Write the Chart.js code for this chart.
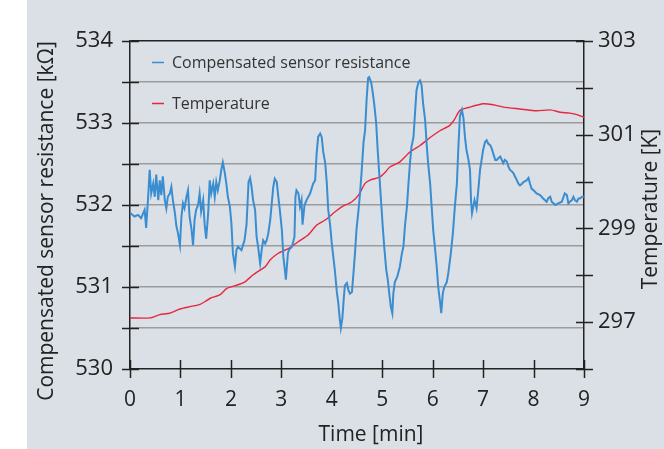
<!DOCTYPE html>
<html>
<head>
<meta charset="utf-8">
<script src="https://cdn.jsdelivr.net/npm/chart.js@4.4.1/dist/chart.umd.min.js"></script>
<style>
  html, body { margin: 0; padding: 0; background: #fff; }
  canvas { display: block; }
</style>
</head>
<body>
<canvas id="sensorChart" width="664" height="449"></canvas>
<script>
// Compensated sensor resistance [kOhm] vs time [min]
const resTime = [
  0.01,0.09,0.16,0.22,0.29,0.32,0.36,0.39,0.42,0.46,0.49,0.52,0.56,0.59,0.62,0.65,0.69,0.72,0.75,0.79,
  0.82,0.85,0.89,0.92,0.95,0.99,1.02,1.05,1.08,1.12,1.15,1.18,1.22,1.25,1.28,1.31,1.35,1.38,1.41,1.45,
  1.48,1.51,1.55,1.58,1.61,1.65,1.68,1.71,1.74,1.78,1.81,1.84,1.88,1.91,1.94,1.98,2.01,2.04,2.08,2.11,
  2.14,2.21,2.27,
  2.31,2.35,2.38,2.41,2.44,2.48,2.51,2.54,2.58,2.61,2.64,2.68,2.71,2.74,2.78,2.81,2.84,2.87,2.91,2.94,
  2.97,3.01,3.04,3.07,3.09,3.13,3.15,3.21,3.26,3.28,3.30,3.34,3.37,3.40,3.42,3.46,3.50,3.57,3.63,3.67,
  3.70,3.73,3.77,3.80,3.83,3.87,3.90,3.93,3.97,4.00,4.03,4.06,4.10,4.13,4.16,4.18,4.21,4.24,4.26,4.30,
  4.33,4.36,4.40,4.43,4.46,4.49,4.53,4.56,4.59,
  4.63,4.66,4.69,4.72,4.74,4.78,4.81,4.84,4.88,4.91,4.94,4.98,5.01,5.04,5.08,5.11,5.14,5.17,5.20,5.22,
  5.25,5.30,5.35,5.39,5.42,5.45,5.49,5.52,5.55,5.58,5.62,5.65,5.68,5.72,5.75,5.78,5.81,5.85,5.88,5.91,
  5.95,5.98,6.01,6.05,6.08,6.11,6.15,6.17,6.20,6.23,6.28,6.31,6.36,6.40,6.44,6.48,6.51,6.54,6.58,6.61,
  6.64,6.67,6.71,6.74,6.76,6.78,
  6.83,6.87,6.91,6.94,6.97,7.00,7.04,7.07,7.10,7.14,7.17,7.20,7.24,7.27,7.30,7.34,7.37,7.40,7.43,7.47,
  7.50,7.53,7.57,7.60,7.63,7.67,7.70,7.73,7.77,7.80,7.86,7.90,7.93,7.96,8.00,8.06,8.13,8.19,8.26,8.29,
  8.33,8.36,8.43,8.49,8.56,8.62,8.66,8.69,8.72,8.76,8.79,8.82,8.86,8.89,8.92,8.96,9.00
];
const resValues = [
  531.90,531.86,531.88,531.84,531.94,531.72,532.10,532.43,532.14,532.26,532.10,532.37,532.06,532.30,532.12,532.35,532.06,531.96,532.10,532.14,
  532.22,532.06,531.90,531.74,531.66,531.51,531.86,532.02,531.96,532.10,532.18,531.86,531.70,531.51,531.82,531.94,532.00,532.14,531.92,532.06,
  531.76,531.59,531.90,532.30,532.14,532.26,532.10,532.28,532.18,532.30,532.43,532.52,532.39,532.26,532.10,531.98,531.78,531.41,531.25,531.45,
  531.49,531.45,531.57,
  531.76,532.28,532.33,532.22,532.06,531.94,531.61,531.49,531.29,531.45,531.57,531.53,531.57,531.65,531.82,532.02,532.22,532.32,532.28,532.10,
  531.94,531.70,531.37,531.21,531.09,531.41,531.45,531.49,531.61,532.10,532.18,532.14,531.98,532.06,531.76,532.00,532.06,532.14,532.26,532.30,
  532.63,532.83,532.87,532.83,532.65,532.51,532.28,531.94,531.74,531.53,531.37,531.21,530.94,530.80,530.60,530.50,530.62,530.88,531.02,531.05,
  530.96,530.92,530.94,531.17,531.41,531.70,531.94,532.14,532.39,
  532.77,532.91,533.28,533.55,533.56,533.50,533.38,533.24,533.00,532.67,532.39,532.02,531.74,531.49,531.21,531.09,530.92,530.76,530.68,530.92,
  531.06,531.13,531.25,531.41,531.49,531.74,531.98,532.26,532.51,532.71,532.83,533.12,533.40,533.50,533.52,533.46,533.24,533.04,532.75,532.51,
  532.26,531.98,531.70,531.45,531.25,531.00,530.80,530.68,530.92,531.00,531.06,531.17,531.41,531.65,531.98,532.26,532.71,533.08,533.16,533.06,
  532.83,532.67,532.55,532.43,532.06,531.90,
  532.06,531.96,532.22,532.43,532.55,532.67,532.77,532.79,532.75,532.73,532.69,532.63,532.55,532.55,532.57,532.59,532.55,532.51,532.55,532.53,
  532.47,532.43,532.41,532.39,532.35,532.30,532.26,532.24,532.26,532.28,532.30,532.33,532.26,532.20,532.18,532.14,532.12,532.08,532.04,532.08,
  532.10,532.04,532.00,532.02,532.04,532.14,532.12,532.02,532.04,532.06,532.10,532.06,532.04,532.08,532.08,532.10,532.10
];

// Temperature [K] vs time [min]
const tempTime = [
  0,0.40,0.59,0.79,0.99,1.19,1.39,1.49,1.59,1.78,1.92,2.12,2.28,2.44,2.58,2.68,2.78,2.94,3.14,3.34,
  3.53,3.70,3.87,4.06,4.20,4.40,4.53,4.66,4.76,4.96,5.06,5.15,5.35,5.55,5.75,5.95,6.15,6.34,6.44,6.54,
  6.74,7.00,7.20,7.40,7.73,8.06,8.33,8.53,8.72,8.86,9.00
];
const tempValues = [
  297.09,297.09,297.16,297.19,297.28,297.33,297.38,297.44,297.51,297.58,297.72,297.79,297.86,298.01,298.11,298.18,298.33,298.47,298.57,298.72,
  298.86,299.07,299.18,299.35,299.46,299.57,299.71,299.96,300.03,300.10,300.20,300.31,300.42,300.63,300.77,300.94,301.09,301.20,301.34,301.52,
  301.59,301.66,301.64,301.59,301.55,301.51,301.53,301.48,301.46,301.43,301.37
];

// labelled ticks
const timeTicks = [0, 1, 2, 3, 4, 5, 6, 7, 8, 9];
const resTicks = [530, 531, 532, 533, 534];
const tempTicks = [297, 299, 301, 303];

const FONT = "'Open Sans', 'Noto Sans', sans-serif";
const INK = '#222222';

const toPoints = (xs, ys) => xs.map((x, i) => ({ x: x, y: ys[i] }));

// figure background (white strip on the far left)
const backgroundPlugin = {
  id: 'figureBackground',
  beforeDraw(chart) {
    const { ctx, width, height } = chart;
    ctx.save();
    ctx.fillStyle = '#ffffff';
    ctx.fillRect(0, 0, width, height);
    ctx.fillStyle = '#dae0e6';
    ctx.fillRect(27, 0, width - 27, height);
    ctx.restore();
  }
};

// tick marks crossing the axes, axis titles and inner legend
const decorPlugin = {
  id: 'decor',
  afterDraw(chart) {
    const { ctx, chartArea, scales } = chart;
    const { left, right, top, bottom } = chartArea;
    ctx.save();
    ctx.strokeStyle = INK;
    ctx.lineWidth = 1.5;
    ctx.beginPath();
    scales.y.ticks.forEach(t => {
      const y = Math.round(scales.y.getPixelForValue(t.value)) + 0.5;
      ctx.moveTo(left - 8, y); ctx.lineTo(left + 9, y);
    });
    scales.y2.ticks.forEach(t => {
      const y = Math.round(scales.y2.getPixelForValue(t.value)) + 0.5;
      ctx.moveTo(right - 8, y); ctx.lineTo(right + 9, y);
    });
    scales.x.ticks.forEach(t => {
      const x = Math.round(scales.x.getPixelForValue(t.value)) + 0.5;
      ctx.moveTo(x, bottom - 9); ctx.lineTo(x, bottom + 9);
    });
    ctx.stroke();

    // axis titles
    ctx.fillStyle = INK;
    ctx.textAlign = 'center';
    ctx.textBaseline = 'middle';
    ctx.font = '21px ' + FONT;
    ctx.fillText('Time [min]', 371, 435);

    ctx.save();
    ctx.translate(47, 221);
    ctx.rotate(-Math.PI / 2);
    ctx.fillText('Compensated sensor resistance [kΩ]', 0, 0);
    ctx.restore();

    ctx.save();
    ctx.translate(651, 209);
    ctx.rotate(-Math.PI / 2);
    ctx.fillText('Temperature [K]', 0, 0);
    ctx.restore();

    // legend inside the plot
    ctx.font = '16px ' + FONT;
    ctx.textAlign = 'left';
    const rows = [62.5, 103.5];
    chart.data.datasets.forEach((ds, i) => {
      const y = rows[i];
      ctx.strokeStyle = ds.borderColor;
      ctx.lineWidth = 1.5;
      ctx.beginPath();
      ctx.moveTo(152, y); ctx.lineTo(164, y);
      ctx.stroke();
      ctx.fillStyle = '#333333';
      ctx.fillText(ds.label, 172, y + 1);
    });
    ctx.restore();
  }
};

const ctx = document.getElementById('sensorChart').getContext('2d');
new Chart(ctx, {
  type: 'line',
  data: {
    datasets: [{
      label: 'Compensated sensor resistance',
      data: toPoints(resTime, resValues),
      yAxisID: 'y',
      borderColor: '#3a8dd0',
      borderWidth: 2,
      pointRadius: 0,
      tension: 0
    }, {
      label: 'Temperature',
      data: toPoints(tempTime, tempValues),
      yAxisID: 'y2',
      borderColor: '#e8263f',
      borderWidth: 1.4,
      pointRadius: 0,
      tension: 0.2
    }]
  },
  options: {
    responsive: false,
    devicePixelRatio: 1,
    animation: false,
    layout: { padding: { top: 41, left: 0, right: 0, bottom: 0 } },
    plugins: {
      legend: { display: false },
      tooltip: { enabled: false }
    },
    scales: {
      x: {
        type: 'linear',
        min: 0,
        max: 9,
        afterFit: s => { s.height = 80; },
        grid: { display: false, drawTicks: false },
        border: { display: true, color: INK, width: 1.5 },
        ticks: {
          stepSize: 1,
          autoSkip: false,
          maxRotation: 0,
          padding: 18,
          color: INK,
          font: { family: FONT, size: 21 },
          callback: v => timeTicks.includes(v) ? String(v) : ''
        }
      },
      y: {
        position: 'left',
        min: 530,
        max: 534,
        afterFit: s => { s.width = 130; },
        grid: {
          drawTicks: false,
          lineWidth: 1.5,
          color: c => c.tick.value === 534 ? INK : (c.tick.value === 530 ? 'rgba(0,0,0,0)' : '#9c9c9c')
        },
        border: { display: true, color: INK, width: 1.5 },
        ticks: {
          stepSize: 0.5,
          autoSkip: false,
          padding: 17,
          color: INK,
          font: { family: FONT, size: 22 },
          callback: v => resTicks.includes(v) ? String(v) : ''
        }
      },
      y2: {
        position: 'right',
        min: 296,
        max: 303,
        afterFit: s => { s.width = 80; },
        grid: { display: false, drawTicks: false },
        border: { display: true, color: INK, width: 1.5 },
        ticks: {
          stepSize: 1,
          autoSkip: false,
          padding: 14,
          color: INK,
          font: { family: FONT, size: 22 },
          callback: v => tempTicks.includes(v) ? String(v) : ''
        }
      }
    }
  },
  plugins: [backgroundPlugin, decorPlugin]
});
</script>
</body>
</html>
